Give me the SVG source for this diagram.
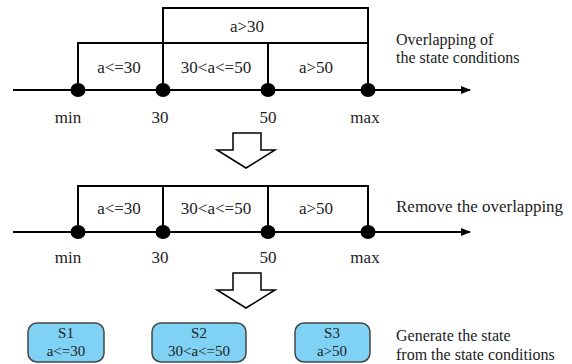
<svg xmlns="http://www.w3.org/2000/svg" width="572" height="364" viewBox="0 0 572 364">
<defs>
<style>
.ln{stroke:#000;stroke-width:2;fill:none}
.dot{fill:#000}
.t{font-family:"Liberation Serif",serif;font-size:17px;fill:#222}
.c{font-size:16px}
.tm{text-anchor:middle}
.st{fill:#7fd2f4;stroke:#444;stroke-width:1.5}
.s{font-family:"Liberation Serif",serif;font-size:15px;fill:#222;text-anchor:middle}
.big{fill:#fff;stroke:#000;stroke-width:1.5}
</style>
<marker id="ah" markerWidth="10" markerHeight="8" refX="9" refY="4" orient="auto" markerUnits="userSpaceOnUse">
<path d="M0,0 L10,4 L0,8 Z" fill="#000"/>
</marker>
</defs>
<rect width="572" height="364" fill="#fff"/>

<g id="connectors">
<line class="ln" x1="13" y1="90" x2="470" y2="90" marker-end="url(#ah)"/>
<line class="ln" x1="13" y1="232" x2="470" y2="232" marker-end="url(#ah)"/>
</g>

<g id="overlap-diagram">
<path class="ln" d="M163,90 V8 H368 V90"/>
<path class="ln" d="M78,90 V43 H368"/>
<line class="ln" x1="268" y1="43" x2="268" y2="90"/>
<ellipse class="dot" cx="78" cy="90" rx="7.5" ry="7"/>
<ellipse class="dot" cx="163" cy="90" rx="7.5" ry="7"/>
<ellipse class="dot" cx="268" cy="90" rx="7.5" ry="7"/>
<ellipse class="dot" cx="368" cy="90" rx="7.5" ry="7"/>
<text class="t tm" x="247" y="32">a&gt;30</text>
<text class="t tm" x="119" y="73">a&lt;=30</text>
<text class="t tm" x="216" y="73">30&lt;a&lt;=50</text>
<text class="t tm" x="316" y="73">a&gt;50</text>
<text class="t tm" x="68" y="123">min</text>
<text class="t tm" x="160" y="123">30</text>
<text class="t tm" x="268" y="123">50</text>
<text class="t tm" x="365" y="123">max</text>
<text class="t c" x="396" y="45">Overlapping of</text>
<text class="t c" x="396" y="63">the state conditions</text>
</g>

<g id="arrow1">
<path class="big" d="M233,133 H261 V150 H275 L246,168 L217,150 H233 Z"/>
</g>

<g id="removed-diagram">
<path class="ln" d="M78,232 V186 H368 V232"/>
<line class="ln" x1="163" y1="186" x2="163" y2="232"/>
<line class="ln" x1="268" y1="186" x2="268" y2="232"/>
<ellipse class="dot" cx="78" cy="232" rx="7.5" ry="7"/>
<ellipse class="dot" cx="163" cy="232" rx="7.5" ry="7"/>
<ellipse class="dot" cx="268" cy="232" rx="7.5" ry="7"/>
<ellipse class="dot" cx="368" cy="232" rx="7.5" ry="7"/>
<text class="t tm" x="119" y="214">a&lt;=30</text>
<text class="t tm" x="216" y="214">30&lt;a&lt;=50</text>
<text class="t tm" x="316" y="214">a&gt;50</text>
<text class="t tm" x="68" y="263">min</text>
<text class="t tm" x="160" y="263">30</text>
<text class="t tm" x="268" y="263">50</text>
<text class="t tm" x="365" y="263">max</text>
<text class="t" x="396" y="212">Remove the overlapping</text>
</g>

<g id="arrow2">
<path class="big" d="M233,273 H261 V290 H275 L246,308 L217,290 H233 Z"/>
</g>

<g id="S1">
<rect class="st" x="28" y="323" width="76" height="39" rx="9"/>
<text class="s" x="66" y="338">S1</text>
<text class="s" x="66" y="356">a&lt;=30</text>
</g>
<g id="S2">
<rect class="st" x="152" y="323" width="94" height="39" rx="9"/>
<text class="s" x="199" y="338">S2</text>
<text class="s" x="199" y="356">30&lt;a&lt;=50</text>
</g>
<g id="S3">
<rect class="st" x="295" y="323" width="75" height="39" rx="9"/>
<text class="s" x="332" y="338">S3</text>
<text class="s" x="332" y="356">a&gt;50</text>
</g>
<g id="caption3">
<text class="t c" x="396" y="341">Generate the state</text>
<text class="t c" x="396" y="360">from the state conditions</text>
</g>
</svg>
